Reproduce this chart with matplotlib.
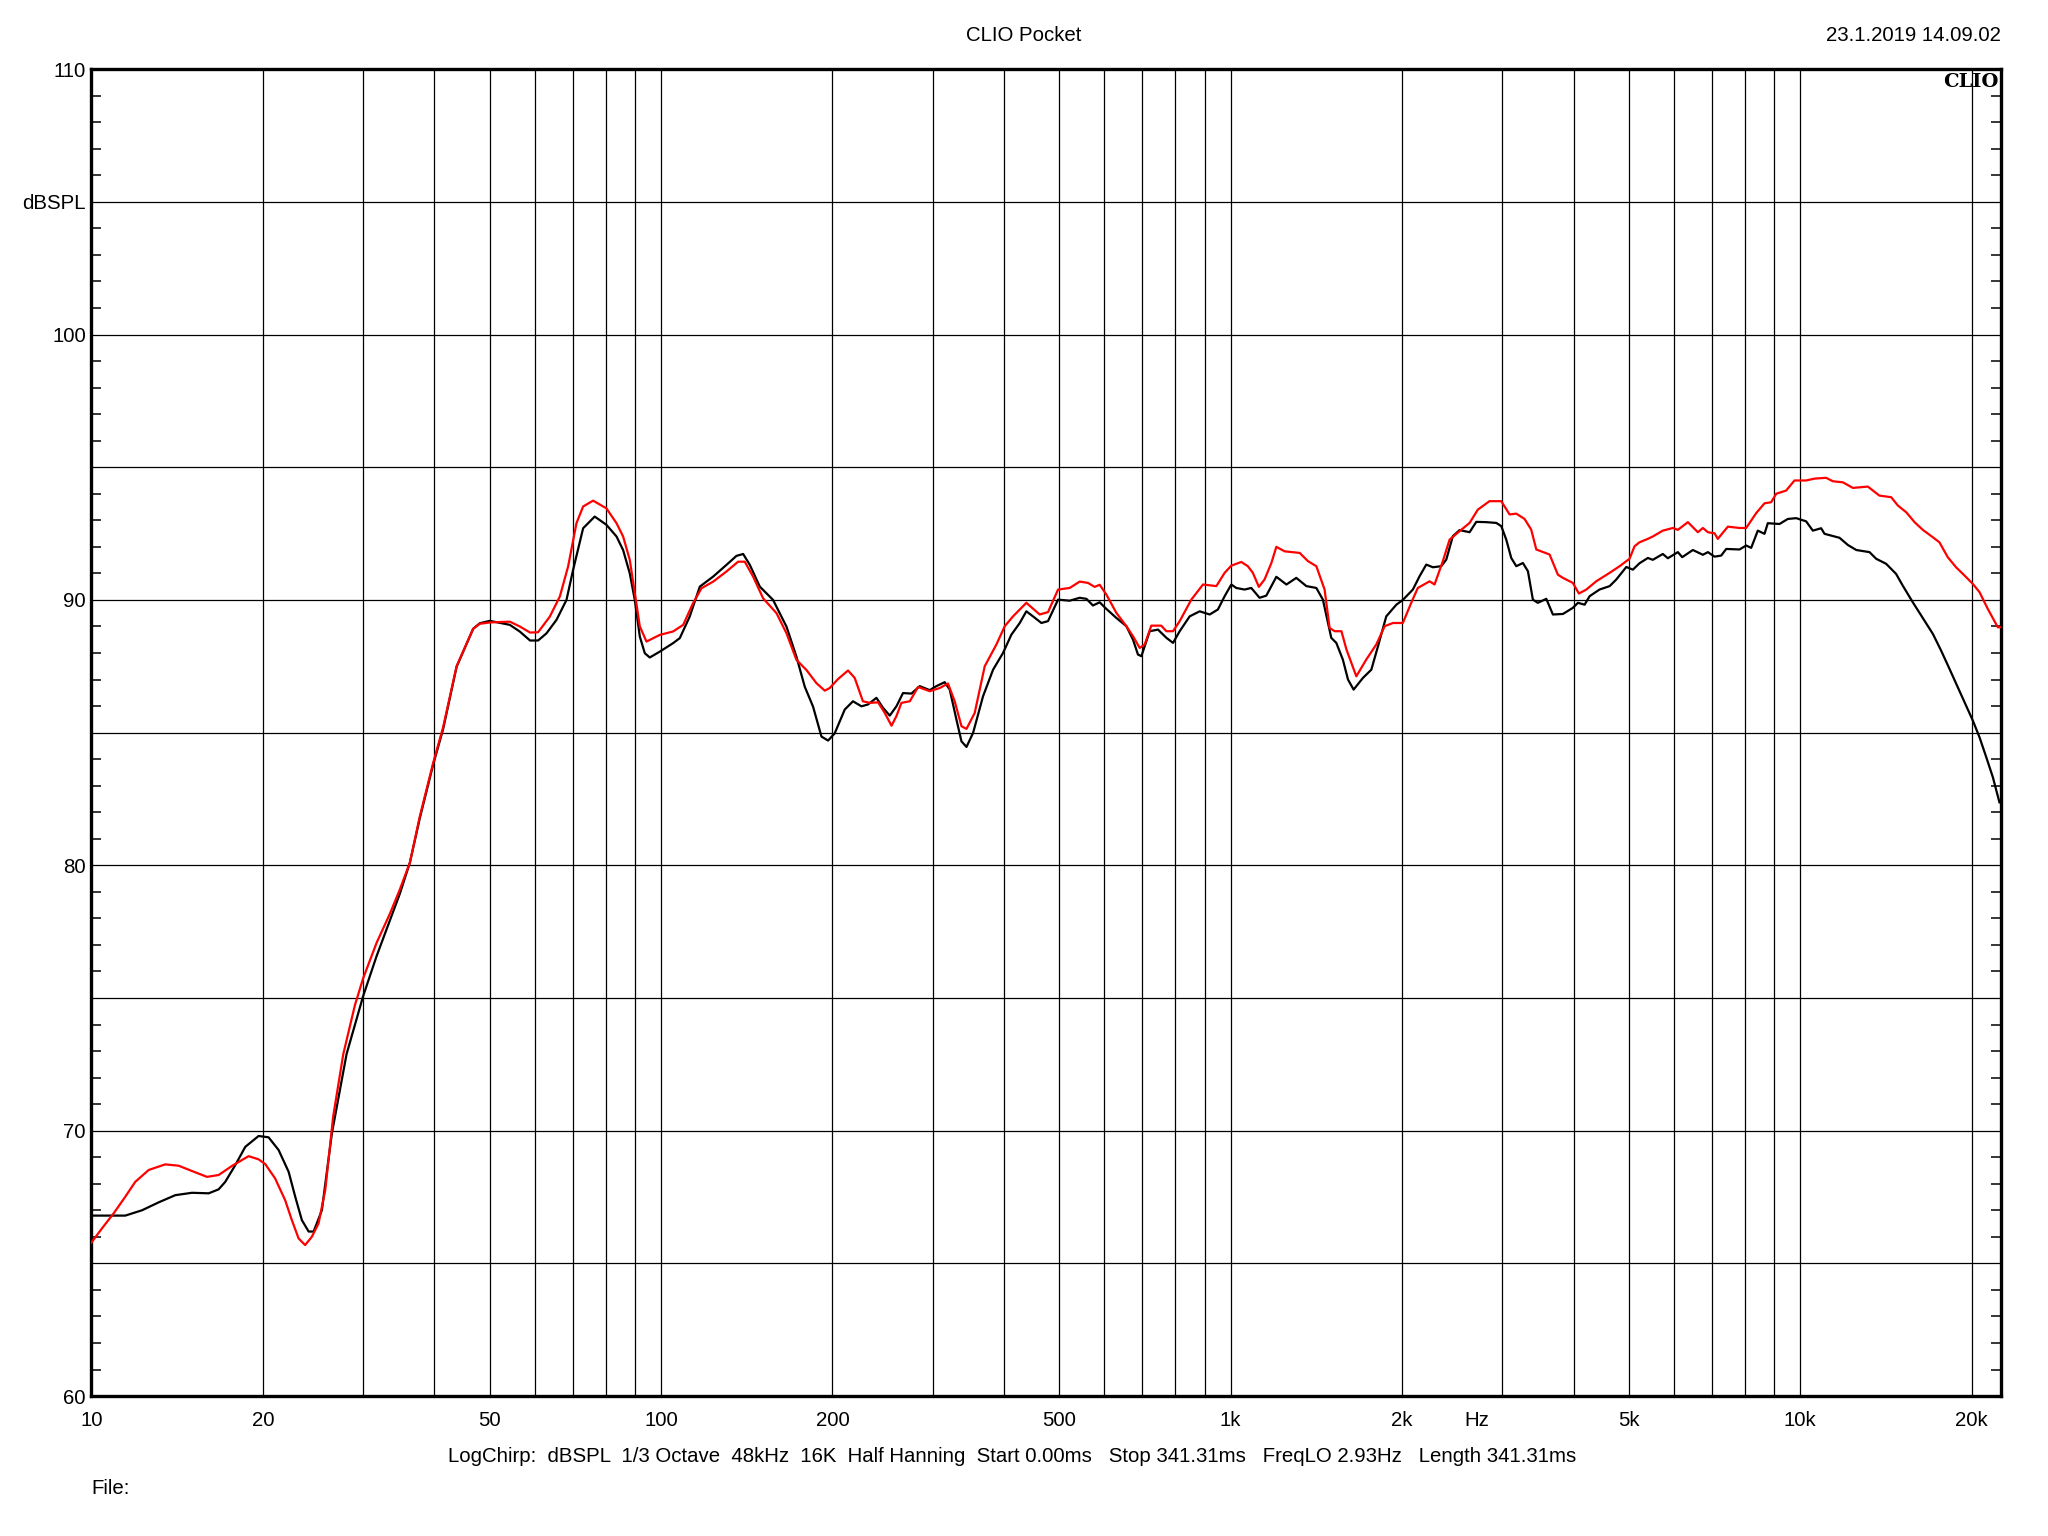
"""CLIO Pocket frequency response: two SPL curves (black, red) on a log axis."""

import matplotlib
matplotlib.use("Agg")
import matplotlib.pyplot as plt
from matplotlib.ticker import NullLocator, FixedLocator

plt.rcParams["font.family"] = ["Liberation Sans", "DejaVu Sans"]

# black curve (Hz, dBSPL)
black_hz = [10.0, 10.87, 11.47, 12.27, 13.13, 14.04, 15.02, 16.07, 16.73, 17.18, 17.89,
            18.63, 19.66, 20.47, 21.32, 22.2, 22.8, 23.42, 24.07, 24.56, 25.39, 26.44,
            28.06, 30.0, 31.68, 33.42, 34.8, 36.24, 37.73, 39.81, 41.45, 43.77, 46.8,
            48.08, 50.07, 54.27, 56.5, 58.9, 60.85, 62.95, 65.56, 68.25, 70.1, 73.0,
            76.5, 80.2, 83.55, 85.8, 88.15, 89.95, 91.8, 93.67, 95.57, 99.5, 105.0,
            107.9, 112.3, 117.0, 123.5, 130.3, 135.7, 139.4, 143.2, 149.1, 157.3,
            166.1, 172.9, 178.8, 184.9, 191.3, 196.5, 201.8, 210.2, 217.3, 224.9,
            230.9, 238.9, 245.4, 252.1, 259.0, 266.0, 275.2, 284.6, 296.3, 304.4,
            314.8, 321.3, 330.1, 336.9, 343.8, 353.1, 367.6, 382.8, 398.5, 412.2,
            426.4, 437.9, 449.8, 465.4, 478.0, 497.8, 521.8, 543.3, 558.2, 573.2,
            589.0, 605.2, 630.1, 656.1, 674.0, 687.6, 697.2, 721.0, 745.6, 771.4,
            792.3, 813.9, 847.5, 882.4, 918.9, 950.0, 976.1, 1002.8, 1023, 1058, 1087,
            1124, 1155, 1203, 1253, 1304, 1358, 1414, 1452, 1482, 1502, 1533, 1574,
            1607, 1644, 1707, 1766, 1814, 1876, 1954, 2006, 2089, 2146, 2205, 2265,
            2343, 2391, 2455, 2523, 2627, 2699, 2810, 2927, 2986, 3047, 3109, 3173,
            3259, 3326, 3393, 3462, 3582, 3679, 3831, 3988, 4071, 4182, 4268, 4442,
            4628, 4754, 4950, 5083, 5221, 5400, 5510, 5737, 5855, 6097, 6205, 6478,
            6746, 6884, 7071, 7264, 7413, 7823, 8036, 8200, 8423, 8654, 8770, 9194,
            9508, 9836, 10240, 10520, 10880, 11030, 11720, 12120, 12540, 13230, 13590,
            14150, 14730, 15130, 15760, 16520, 17090, 17670, 18280, 18900, 19550,
            20090, 20640, 21210, 21780, 22370]
black_db = [66.8, 66.8, 66.8, 67.0, 67.3, 67.57, 67.66, 67.64, 67.79, 68.07, 68.7,
            69.39, 69.8, 69.75, 69.27, 68.45, 67.51, 66.63, 66.2, 66.2, 67.0, 69.9,
            72.89, 75.07, 76.58, 77.92, 78.93, 80.1, 81.78, 83.79, 85.13, 87.48, 88.91,
            89.12, 89.21, 89.06, 88.81, 88.47, 88.47, 88.74, 89.25, 90.0, 91.13, 92.7,
            93.14, 92.83, 92.39, 91.88, 91.0, 90.0, 88.62, 87.99, 87.83, 88.05, 88.37,
            88.56, 89.37, 90.5, 90.88, 91.32, 91.66, 91.73, 91.32, 90.5, 90.0,
            88.99, 87.86, 86.73, 85.98, 84.85, 84.7, 84.97, 85.87, 86.18, 85.99,
            86.06, 86.31, 85.93, 85.64, 85.99, 86.49, 86.47, 86.75, 86.6, 86.75,
            86.9, 86.62, 85.49, 84.67, 84.46, 84.99, 86.37, 87.37, 88.0, 88.69,
            89.13, 89.57, 89.38, 89.13, 89.2, 90.01, 89.97, 90.08, 90.04, 89.79,
            89.91, 89.66, 89.32, 89.01, 88.5, 87.94, 87.88, 88.82, 88.88, 88.57,
            88.38, 88.82, 89.38, 89.57, 89.45, 89.64, 90.14, 90.58, 90.45, 90.39, 90.45,
            90.08, 90.16, 90.87, 90.58, 90.83, 90.52, 90.45, 90.01, 89.13, 88.57, 88.38, 87.75,
            87.0, 86.62, 87.06, 87.37, 88.25, 89.38, 89.82, 90.0, 90.39, 90.89, 91.33, 91.23,
            91.27, 91.52, 92.4, 92.63, 92.55, 92.94, 92.93, 92.9, 92.78, 92.27, 91.58, 91.27,
            91.39, 91.08, 90.01, 89.89, 90.04, 89.45, 89.47, 89.7, 89.89, 89.82, 90.14, 90.39,
            90.52, 90.77, 91.24, 91.14, 91.38, 91.58, 91.51, 91.73, 91.57, 91.8, 91.61, 91.88,
            91.7, 91.8, 91.63, 91.67, 91.92, 91.9, 92.05, 91.96, 92.61, 92.49, 92.89, 92.86,
            93.05, 93.08, 92.96, 92.61, 92.7, 92.49, 92.34, 92.07, 91.88, 91.8, 91.55,
            91.36, 90.98, 90.54, 89.91, 89.22, 88.72, 88.09, 87.4, 86.71, 86.02,
            85.45, 84.82, 84.07, 83.32, 82.37]

# red curve (Hz, dBSPL)
red_hz = [10.0, 10.44, 10.94, 11.47, 11.94, 12.61, 13.48, 14.23, 15.02, 15.96, 16.73,
          17.65, 18.88, 19.66, 20.2, 21.02, 21.89, 22.49, 23.11, 23.73, 24.38, 25.05,
          25.74, 26.58, 27.69, 29.02, 30.0, 31.68, 33.42, 34.8, 36.24, 37.73, 39.81,
          41.45, 43.77, 46.8, 48.08, 50.07, 54.27, 56.5, 58.9, 60.85, 63.8, 66.45,
          68.7, 71.06, 73.0, 76.0, 80.2, 83.55, 85.8, 88.15, 89.95, 91.8, 94.3, 99.5,
          105.0, 109.4, 113.8, 117.8, 123.5, 130.3, 136.6, 140.3, 145.1, 151.1, 159.5,
          166.1, 172.9, 180.0, 187.5, 193.9, 197.8, 204.6, 213.0, 218.8, 226.2, 232.6,
          240.5, 247.1, 253.9, 259.0, 264.3, 273.4, 282.7, 296.3, 308.6, 319.0, 327.8,
          336.9, 343.8, 355.4, 370.1, 388.0, 401.3, 415.0, 437.9, 462.2, 478.0, 497.8,
          521.8, 543.3, 561.8, 577.2, 589.0, 605.2, 630.1, 656.1, 674.0, 692.4, 706.5,
          725.7, 755.4, 771.4, 792.3, 813.9, 853.1, 894.3, 943.9, 976.1, 1002.8, 1044,
          1072, 1094, 1121, 1147, 1179, 1203, 1244, 1322, 1367, 1414, 1462, 1492, 1523,
          1565, 1597, 1662, 1730, 1802, 1864, 1928, 2006, 2075, 2131, 2235, 2280, 2358,
          2423, 2523, 2627, 2716, 2847, 2986, 3088, 3173, 3281, 3370, 3440, 3630, 3754,
          3831, 3988, 4087, 4211, 4383, 4628, 4818, 5015, 5117, 5221, 5400, 5510, 5737,
          5975, 6097, 6349, 6610, 6746, 6884, 7071, 7165, 7463, 7823, 8036, 8367, 8654,
          8889, 9073, 9445, 9768, 10240, 10590, 11100, 11410, 11880, 12370, 13140,
          13770, 14440, 14830, 15350, 15870, 16410, 17090, 17550, 18150, 18770, 19420,
          20090, 20640, 21340, 22220, 22520]
red_db = [65.78, 66.32, 66.88, 67.51, 68.07, 68.52, 68.73, 68.68, 68.48, 68.26, 68.33,
          68.67, 69.04, 68.92, 68.74, 68.2, 67.38, 66.63, 65.94, 65.69, 66.0, 66.5,
          67.76, 70.54, 72.89, 74.73, 75.74, 77.08, 78.17, 79.09, 80.1, 81.85, 83.85,
          85.2, 87.5, 88.91, 89.1, 89.15, 89.18, 89.0, 88.77, 88.78, 89.37, 90.13,
          91.26, 92.89, 93.52, 93.74, 93.45, 92.89, 92.39, 91.51, 90.25, 89.0, 88.43, 88.68,
          88.81, 89.06, 89.87, 90.44, 90.69, 91.07, 91.44, 91.44, 90.88, 90.06, 89.5,
          88.74, 87.74, 87.36, 86.86, 86.58, 86.68, 87.02, 87.34, 87.06, 86.18, 86.12,
          86.14, 85.74, 85.26, 85.62, 86.12, 86.18, 86.72, 86.56, 86.68, 86.85, 86.18,
          85.24, 85.14, 85.74, 87.5, 88.32, 89.01, 89.38, 89.89, 89.45, 89.54, 90.39,
          90.45, 90.69, 90.64, 90.49, 90.57, 90.2, 89.51, 89.01, 88.63, 88.19, 88.32,
          89.03, 89.03, 88.82, 88.82, 89.2, 90.01, 90.58, 90.52, 91.02, 91.29, 91.43,
          91.27, 91.02, 90.49, 90.77, 91.39, 92.0, 91.83, 91.77, 91.46, 91.27, 90.39, 88.94, 88.82,
          88.82, 88.13, 87.12, 87.75, 88.32, 89.01, 89.13, 89.13, 89.89, 90.45, 90.7, 90.58, 91.46,
          92.27, 92.59, 92.9, 93.4, 93.72, 93.72, 93.22, 93.25, 93.05, 92.65, 91.9, 91.71, 90.95,
          90.83, 90.64, 90.24, 90.39, 90.7, 91.02, 91.27, 91.55, 92.02, 92.17, 92.3, 92.39, 92.61,
          92.71, 92.64, 92.93, 92.55, 92.71, 92.55, 92.51, 92.3, 92.76, 92.71, 92.71, 93.27, 93.64,
          93.68, 94.0, 94.12, 94.5, 94.5, 94.57, 94.6, 94.47, 94.43, 94.22, 94.27,
          93.93, 93.87, 93.56, 93.3, 92.93, 92.64, 92.36, 92.17, 91.61, 91.23, 90.92,
          90.6, 90.29, 89.66, 88.97, 88.97]

grid_hz = [20, 30, 40, 50, 60, 70, 80, 90, 100, 200, 300, 400, 500, 600, 700, 800, 900,
           1000, 2000, 3000, 4000, 5000, 6000, 7000, 8000, 9000, 10000, 20000]
xtick_hz = [10, 20, 50, 100, 200, 500, 1000, 2000, 2700, 5000, 10000, 20000]
xtick_labels = ["10", "20", "50", "100", "200", "500", "1k", "2k", "Hz", "5k", "10k", "20k"]
ytick_db = [60, 65, 70, 75, 80, 85, 90, 95, 100, 105, 110]
ytick_labels = ["60", "", "70", "", "80", "", "90", "", "100", "dBSPL", "110"]

fig = plt.figure(figsize=(20.48, 15.36), dpi=100)
ax = fig.add_axes([0.0446, 0.0911, 0.9324, 0.8639])

for f in grid_hz:
    ax.axvline(f, color="black", linewidth=0.9, zorder=1)
for d in ytick_db:
    ax.axhline(d, color="black", linewidth=0.9, zorder=1)

ax.plot(black_hz, black_db, color="black", linewidth=1.6, zorder=3)
ax.plot(red_hz, red_db, color="#ff0000", linewidth=1.6, zorder=4)

ax.set_xscale("log")
ax.set_xlim(10, 22500)
ax.set_ylim(60, 110)
ax.xaxis.set_major_locator(FixedLocator(xtick_hz))
ax.xaxis.set_minor_locator(NullLocator())
ax.set_xticklabels(xtick_labels)
ax.set_yticks(ytick_db)
ax.set_yticklabels(ytick_labels)
ax.yaxis.set_minor_locator(FixedLocator(range(60, 111)))
ax.tick_params(axis="x", which="major", length=0, pad=11, labelsize=14.7)
ax.tick_params(axis="y", which="major", length=0, pad=4, labelsize=14.7)
ax.tick_params(axis="y", which="minor", direction="in", length=7, width=1.1,
               left=True, right=True)
for s in ax.spines.values():
    s.set_linewidth(2.4)

ax.text(0.999, 0.997, "CLIO", transform=ax.transAxes, ha="right", va="top",
        family="DejaVu Serif", fontweight="bold", fontsize=14, zorder=5)

fig.text(0.5, 0.977, "CLIO Pocket", ha="center", va="center", fontsize=14.7)
fig.text(0.977, 0.977, "23.1.2019 14.09.02", ha="right", va="center", fontsize=14.7)
fig.text(0.494, 0.052,
         "LogChirp:  dBSPL  1/3 Octave  48kHz  16K  Half Hanning  Start 0.00ms   "
         "Stop 341.31ms   FreqLO 2.93Hz   Length 341.31ms",
         ha="center", va="center", fontsize=14.7)
fig.text(0.0446, 0.031, "File:", ha="left", va="center", fontsize=14.7)

fig.savefig("out.png", dpi=100)
